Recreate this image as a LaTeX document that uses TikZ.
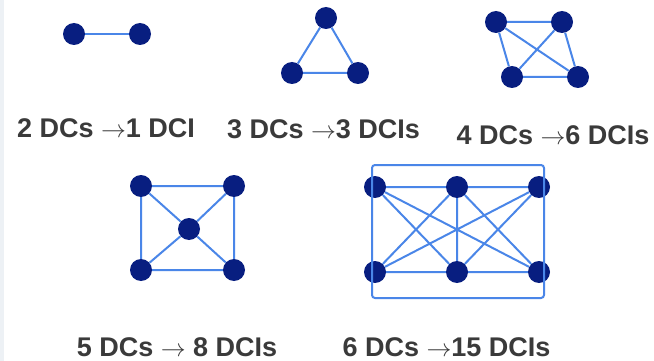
\documentclass[tikz,border=0pt]{standalone}
\usepackage{fontspec}
\setmainfont{Liberation Sans}
\definecolor{dcnode}{RGB}{8,30,128}
\definecolor{dcedge}{RGB}{74,134,232}
\definecolor{dctext}{RGB}{58,58,58}
\definecolor{strip}{RGB}{237,241,245}
\newcommand{\dcarrow}{\ensuremath{\rightarrow}}
\begin{document}
\begin{tikzpicture}[x=1pt,y=-1pt,
  dc/.style={circle,fill=dcnode,minimum size=22pt,inner sep=0pt},
  link/.style={draw=dcedge,line width=2pt},
  lbl/.style={text=dctext,font=\fontsize{27}{30}\selectfont\bfseries,anchor=base,inner sep=0pt}]
\useasboundingbox (0,0) rectangle (654,361);
\fill[white] (0,0) rectangle (654,361);
\fill[strip] (0,0) rectangle (4,361);
% panel 1
\node[dc] (a1) at (74,34) {};
\node[dc] (a2) at (140,34) {};
\draw[link] (a1) -- (a2);
\node[lbl] (l1) at (106,138) {2 DCs \dcarrow1 DCI};
% panel 2
\node[dc] (b1) at (326,18) {};
\node[dc] (b2) at (292,73) {};
\node[dc] (b3) at (358,73) {};
\draw[link] (b1) -- (b2) (b2) -- (b3) (b3) -- (b1);
\node[lbl] (l2) at (323.5,139) {3 DCs \dcarrow3 DCIs};
% panel 3
\node[dc] (c1) at (496,22) {};
\node[dc] (c2) at (562,22) {};
\node[dc] (c3) at (512,77) {};
\node[dc] (c4) at (578,77) {};
\draw[link] (c1) -- (c2) (c2) -- (c4) (c4) -- (c3) (c3) -- (c1) (c1) -- (c4) (c2) -- (c3);
\node[lbl] (l3) at (553,145) {4 DCs \dcarrow6 DCIs};
% panel 4
\node[dc] (d1) at (141,186) {};
\node[dc] (d2) at (234,186) {};
\node[dc] (d5) at (189,229) {};
\node[dc] (d3) at (141,270) {};
\node[dc] (d4) at (234,270) {};
\draw[link] (d1) -- (d2) (d2) -- (d4) (d4) -- (d3) (d3) -- (d1)
  (d1) -- (d5) (d2) -- (d5) (d3) -- (d5) (d4) -- (d5);
\node[lbl] (l4) at (177,356) {5 DCs \dcarrow{} 8 DCIs};
% panel 5
\node[dc] (e1) at (375,187) {};
\node[dc] (e2) at (457,187) {};
\node[dc] (e3) at (539,187) {};
\node[dc] (e4) at (375,272) {};
\node[dc] (e5) at (457,272) {};
\node[dc] (e6) at (539,272) {};
\draw[link,rounded corners=3pt] (372,165) rectangle (544,298);
\draw[link] (e1) -- (e2) (e2) -- (e3) (e4) -- (e5) (e5) -- (e6)
  (e2) -- (e5)
  (e1) -- (e5) (e1) -- (e6) (e2) -- (e4) (e2) -- (e6) (e3) -- (e4) (e3) -- (e5);
\node[lbl] (l5) at (446.5,356) {6 DCs \dcarrow15 DCIs};
\end{tikzpicture}
\end{document}
